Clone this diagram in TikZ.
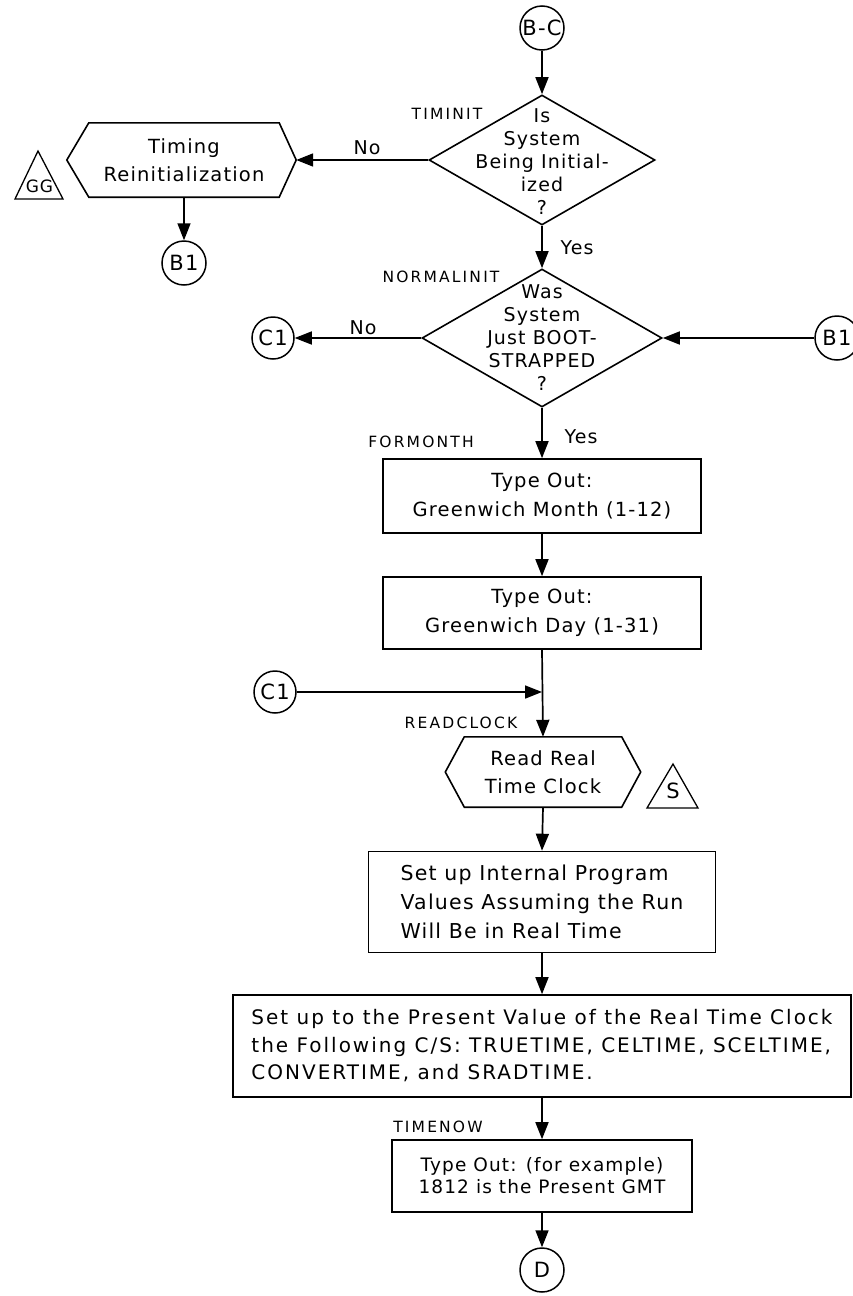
\documentclass[tikz,border=0pt]{standalone}
\usepackage{fontspec}
\setmainfont{DejaVu Sans}[LetterSpace=6]
\newfontfamily\tagfont{DejaVu Sans}[LetterSpace=14]
\newfontfamily\widefont{DejaVu Sans}[LetterSpace=10]
\usetikzlibrary{arrows.meta,shapes.geometric,calc}

\tikzset{
  flow/.style={line width=1.7pt, -{Triangle[length=17pt,width=13pt]}},
  plainline/.style={line width=1.6pt},
  connector/.style={circle, draw, line width=1.5pt, minimum size=44pt, inner sep=0pt,
    font=\fontsize{21}{22}\selectfont},
  decision/.style={diamond, draw, line width=1.6pt, inner sep=0pt},
  decisiontext/.style={align=center, inner sep=0pt, font=\fontsize{19}{23}\selectfont},
  procbox/.style={rectangle, draw, line width=1.6pt, inner sep=0pt,
    font=\fontsize{19.5}{29}\selectfont},
  hexbody/.style={rectangle, inner sep=0pt, align=center, font=\fontsize{19.5}{28}\selectfont},
  tag/.style={inner sep=0pt, font=\tagfont\fontsize{15.5}{17}\selectfont},
  answer/.style={inner sep=0pt, font=\fontsize{19}{20}\selectfont},
  marker/.style={inner sep=0pt, font=\fontsize{21}{22}\selectfont},
}

\begin{document}
\begin{tikzpicture}[x=1pt,y=-1pt]
\useasboundingbox (0,0) rectangle (853,1296);

% --- entry and first decision ---
\node[connector] (bc) at (542,28) {B-C};
\node[decision, minimum width=226pt, minimum height=130pt] (d1) at (542,160) {};
\node[decisiontext] (d1t) at (542,162) {Is\\System\\Being Initial-\\ized\\?};
\node[tag] (timinit) at (447,114) {TIMINIT};

% --- timing reinitialization branch ---
\node[hexbody, minimum width=190pt, minimum height=74pt] (reinit) at (184,160)
  {Timing\\Reinitialization};
\coordinate (reinit-r) at ($(reinit.east)+(17,0)$);
\coordinate (reinit-l) at ($(reinit.west)+(-22,0)$);
\draw[plainline] (reinit.north west) -- (reinit.north east) -- (reinit-r)
  -- (reinit.south east) -- (reinit.south west) -- (reinit-l) -- cycle;
\node[marker, font=\fontsize{17}{18}\selectfont] (gg) at (39.5,186) {GG};
\draw[line width=1.3pt] (15,199) -- (38,151) -- (63,199) -- cycle;
\node[connector] (b1a) at (184,263) {B1};
\node[answer] (no1) at (367,148) {No};

% --- second decision ---
\node[answer] (yes1) at (577,248) {Yes};
\node[decision, minimum width=240pt, minimum height=138pt] (d2) at (542,338) {};
\node[decisiontext] (d2t) at (542,338) {Was\\System\\Just BOOT-\\STRAPPED\\?};
\node[tag] (normalinit) at (441,277) {NORMALINIT};
\node[connector, minimum size=42pt] (c1a) at (273,338) {C1};
\node[answer] (no2) at (363,328) {No};
\node[connector] (b1b) at (837,338) {B1};

% --- type out month and day ---
\node[answer] (yes2) at (581,437) {Yes};
\node[tag] (formonth) at (421,442) {FORMONTH};
\node[procbox, minimum width=318pt, minimum height=74pt, align=center] (month) at (542,496)
  {Type Out:\\Greenwich Month (1-12)};
\node[procbox, minimum width=318pt, minimum height=72pt, align=center] (day) at (542,613)
  {Type Out:\\Greenwich Day (1-31)};

% --- merge point and clock read ---
\node[connector, minimum size=42pt] (c1b) at (275,692) {C1};
\coordinate (join) at (542,692);
\node[tag] (readclock) at (461,723) {READCLOCK};
\node[hexbody, minimum width=157pt, minimum height=70pt] (readclk) at (543,772)
  {Read Real\\Time Clock};
\coordinate (readclk-r) at ($(readclk.east)+(19,0)$);
\coordinate (readclk-l) at ($(readclk.west)+(-19,0)$);
\draw[plainline] (readclk.north west) -- (readclk.north east) -- (readclk-r)
  -- (readclk.south east) -- (readclk.south west) -- (readclk-l) -- cycle;
\node[marker] (s) at (673,791) {S};
\draw[line width=1.3pt] (647,808) -- (673,764) -- (698,808) -- cycle;

% --- program values ---
\node[procbox, minimum width=347pt, minimum height=101pt, align=left,
  font=\fontsize{20.5}{29}\selectfont] (values) at (542,902)
  {Set up Internal Program\\Values Assuming the Run\\Will Be in Real Time};
\node[procbox, minimum width=618pt, minimum height=102pt, align=left,
  font=\widefont\fontsize{20}{27.5}\selectfont] (present) at (542,1046)
  {Set up to the Present Value of the Real Time Clock\\
   the Following C/S: TRUETIME, CELTIME, SCELTIME,\\
   CONVERTIME, and SRADTIME.};

% --- time now ---
\node[tag] (timenow) at (438,1127) {TIMENOW};
\node[procbox, minimum width=300pt, minimum height=72pt, align=center,
  font=\fontsize{18.5}{22}\selectfont] (gmt) at (542,1176)
  {Type Out: (for example)\\1812 is the Present GMT};
\node[connector] (dd) at (542,1270) {D};

% --- connectors ---
\draw[flow] (bc) -- (d1.north);
\draw[flow] (d1.west) -- (reinit-r);
\draw[flow] (reinit.south) -- (b1a);
\draw[flow] (d1.south) -- (d2.north);
\draw[flow] (d2.west) -- (c1a);
\draw[flow] (b1b) -- (d2.east);
\draw[flow] (d2.south) -- (month.north);
\draw[flow] (month.south) -- (day.north);
\draw[flow] (c1b) -- (join);
\draw[flow] (day.south) -- (readclk.north);
\draw[flow] (readclk.south) -- (values.north);
\draw[flow] (values.south) -- (present.north);
\draw[flow] (present.south) -- (gmt.north);
\draw[flow] (gmt.south) -- (dd);
\end{tikzpicture}
\end{document}
